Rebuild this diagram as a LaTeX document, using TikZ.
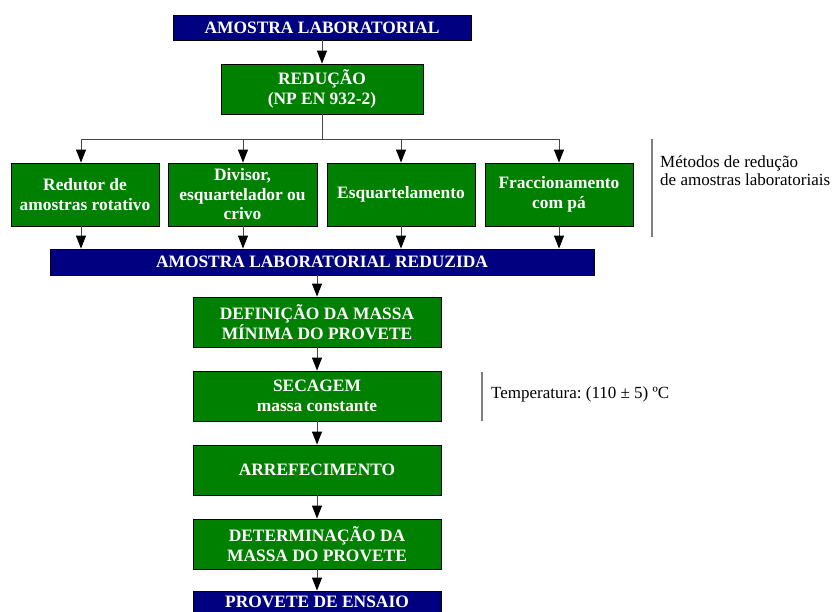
\documentclass[tikz,border=0pt]{standalone}
\usepackage{fontspec}
\setmainfont{Liberation Serif}
\usetikzlibrary{arrows.meta}

\definecolor{boxgreen}{RGB}{0,128,0}
\definecolor{boxnavy}{RGB}{0,0,128}
\definecolor{linkgray}{RGB}{70,70,70}
\definecolor{notegray}{RGB}{128,128,128}

\tikzset{
  stage/.style={draw=black, line width=0.9pt, fill=boxgreen, text=white,
    inner sep=2pt, align=center, anchor=center,
    font=\bfseries\fontsize{17.4}{19.5}\selectfont},
  banner/.style={stage, fill=boxnavy},
  link/.style={draw=linkgray, line width=1pt},
  flow/.style={link, -{Triangle[length=13pt,width=10pt,color=black]}},
  note/.style={anchor=base west, align=left, inner sep=0pt,
    font=\frenchspacing\fontsize{17}{18}\selectfont},
  noteline/.style={draw=notegray, line width=1.4pt},
}

\begin{document}
\begin{tikzpicture}[x=1pt, y=-1pt]
\useasboundingbox (0,0) rectangle (834,611);

% main column
\node[banner, minimum width=298pt, minimum height=25pt] (top) at (322,27.5) {AMOSTRA LABORATORIAL};
\node[stage, minimum width=202pt, minimum height=50pt] (red) at (322,89) {REDUÇÃO\\(NP EN 932-2)};

% reduction methods
\node[stage, minimum width=148pt, minimum height=63pt] (m1) at (85,194.5) {Redutor de\\amostras rotativo};
\node[stage, minimum width=149pt, minimum height=63pt] (m2) at (242.5,194.5) {Divisor,\\esquartelador ou\\crivo};
\node[stage, minimum width=148pt, minimum height=63pt] (m3) at (401,194.5) {Esquartelamento};
\node[stage, minimum width=148pt, minimum height=63pt] (m4) at (559,194.5) {Fraccionamento\\com pá};

\node[banner, minimum width=544pt, minimum height=26pt] (bar) at (322,262) {AMOSTRA LABORATORIAL REDUZIDA};

% preparation of the test portion
\node[stage, minimum width=248pt, minimum height=50pt] (def) at (317,322) {DEFINIÇÃO DA MASSA\\MÍNIMA DO PROVETE};
\node[stage, minimum width=248pt, minimum height=50pt] (sec) at (317,396) {SECAGEM\\massa constante};
\node[stage, minimum width=248pt, minimum height=50pt] (arr) at (317,470) {ARREFECIMENTO};
\node[stage, minimum width=248pt, minimum height=50pt] (det) at (317,544) {DETERMINAÇÃO DA\\MASSA DO PROVETE};
\node[banner, minimum width=248pt, minimum height=22pt] (prov) at (317,602) {PROVETE DE ENSAIO};

% branching
\coordinate (split) at (322,139);
\coordinate (s1) at (81,139);
\coordinate (s2) at (243,139);
\coordinate (s3) at (401,139);
\coordinate (s4) at (559,139);

\draw[flow] (top) -- (red);
\draw[link] (red) -- (split);
\draw[link] (s1) -- (s4);
\foreach \s in {s1,s2,s3,s4} {
  \draw[flow] (\s) -- (\s |- m1.north);
  \draw[flow] (\s |- m1.south) -- (\s |- bar.north);
}
\draw[flow] (bar.south -| def.north) -- (def);
\draw[flow] (def) -- (sec);
\draw[flow] (sec) -- (arr);
\draw[flow] (arr) -- (det);
\draw[flow] (det) -- (prov);

% side notes
\coordinate (n1a) at (652,139);
\coordinate (n1b) at (652,237);
\draw[noteline] (n1a) -- (n1b);
\node[note] (methods) at (660,185) {Métodos de redução\\de amostras laboratoriais};

\coordinate (n2a) at (482,372);
\coordinate (n2b) at (482,421);
\draw[noteline] (n2a) -- (n2b);
\node[note] (temp) at (491,398) {Temperatura: (110 ± 5) ºC};
\end{tikzpicture}
\end{document}
